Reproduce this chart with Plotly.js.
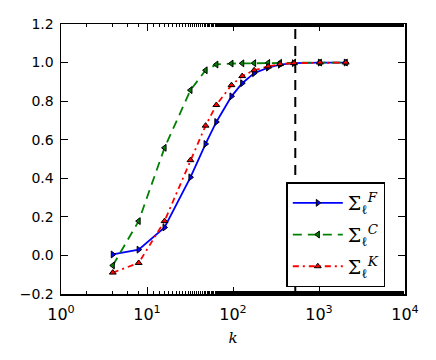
<!DOCTYPE html>
<html>
<head>
<meta charset="utf-8">
<script src="https://cdn.plot.ly/plotly-3.0.1.min.js"></script>
<style>
  html, body { margin: 0; padding: 0; background: #fff; }
  #chart { width: 436px; height: 360px; }
</style>
</head>
<body>
<div id="chart"></div>
<script>
// k values (x axis, log scale)
const kValues = [4, 8, 16, 32, 48, 64, 96, 128, 176, 256, 352, 512, 1024, 2048];

// series
const sigmaF = [0.005, 0.03, 0.145, 0.405, 0.578, 0.692, 0.825, 0.893, 0.945, 0.974, 0.989, 0.997, 1.0, 1.0];
const sigmaC = [-0.052, 0.178, 0.558, 0.857, 0.96, 0.99, 0.995, 0.996, 0.997, 0.998, 0.999, 1.0, 1.0, 1.0];
const sigmaK = [-0.089, -0.039, 0.178, 0.494, 0.673, 0.78, 0.883, 0.93, 0.96, 0.98, 0.992, 0.997, 1.0, 1.0];

// vertical marker line
const kCut = 530;
const yLimits = [-0.2, 1.2];

const xTickVals = [1, 10, 100, 1000, 10000];
const xTickText = ['10<sup>0</sup>', '10<sup>1</sup>', '10<sup>2</sup>', '10<sup>3</sup>', '10<sup>4</sup>'];

function series(y, name, group, color, dash, symbol) {
  return {
    x: kValues,
    y: y,
    name: name,
    legendgroup: group,
    mode: 'lines+markers',
    line: { color: color, width: 1.8, dash: dash },
    marker: { symbol: symbol, size: 6, color: color, line: { color: '#000', width: 1 } }
  };
}

const traces = [
  {
    x: [kCut, kCut],
    y: yLimits,
    mode: 'lines',
    line: { color: '#000', width: 2, dash: '10px,7px' },
    showlegend: false,
    hoverinfo: 'skip'
  },
  series(sigmaF, 'Σ<sub>ℓ</sub><sup><i>F</i></sup>', 'F', '#0000ff', 'solid', 'triangle-right'),
  series(sigmaC, 'Σ<sub>ℓ</sub><sup><i>C</i></sup>', 'C', '#008000', '9px,6px', 'triangle-left'),
  series(sigmaK, 'Σ<sub>ℓ</sub><sup><i>K</i></sup>', 'K', '#ff0000', '6px,4px,2px,4px', 'triangle-up')
];

const layout = {
  width: 436,
  height: 360,
  margin: { t: 24, r: 31, b: 66, l: 61 },
  paper_bgcolor: '#fff',
  plot_bgcolor: '#fff',
  font: { family: 'DejaVu Sans', size: 14, color: '#000' },
  showlegend: true,
  legend: {
    x: 0.655,
    y: 0.413,
    xanchor: 'left',
    yanchor: 'top',
    bgcolor: '#fff',
    bordercolor: '#000',
    borderwidth: 1.5,
    font: { family: 'DejaVu Serif', size: 19 },
    itemwidth: 50,
    tracegroupgap: 4
  },
  xaxis: {
    type: 'log',
    range: [0, 4],
    tickvals: xTickVals,
    ticktext: xTickText,
    ticks: 'inside',
    ticklen: 7,
    tickwidth: 1,
    tickcolor: '#000',
    showline: true,
    linecolor: '#000',
    linewidth: 1.5,
    mirror: 'allticks',
    showgrid: false,
    zeroline: false,
    ticklabelstandoff: 5,
    tickfont: { family: 'DejaVu Sans', size: 16 },
    minor: { ticks: 'inside', ticklen: 3, tickcolor: '#000', showgrid: false },
    title: { text: '<i>k</i>', font: { family: 'DejaVu Serif', size: 15 }, standoff: 10 }
  },
  yaxis: {
    range: yLimits,
    dtick: 0.2,
    tickformat: '.1f',
    ticks: 'inside',
    ticklen: 7,
    tickwidth: 1,
    tickcolor: '#000',
    showline: true,
    linecolor: '#000',
    linewidth: 1.5,
    mirror: 'allticks',
    showgrid: false,
    zeroline: false,
    ticklabelstandoff: 3,
    tickfont: { family: 'DejaVu Sans', size: 14 }
  }
};

Plotly.newPlot('chart', traces, layout, { displayModeBar: false, staticPlot: true });
</script>
</body>
</html>
